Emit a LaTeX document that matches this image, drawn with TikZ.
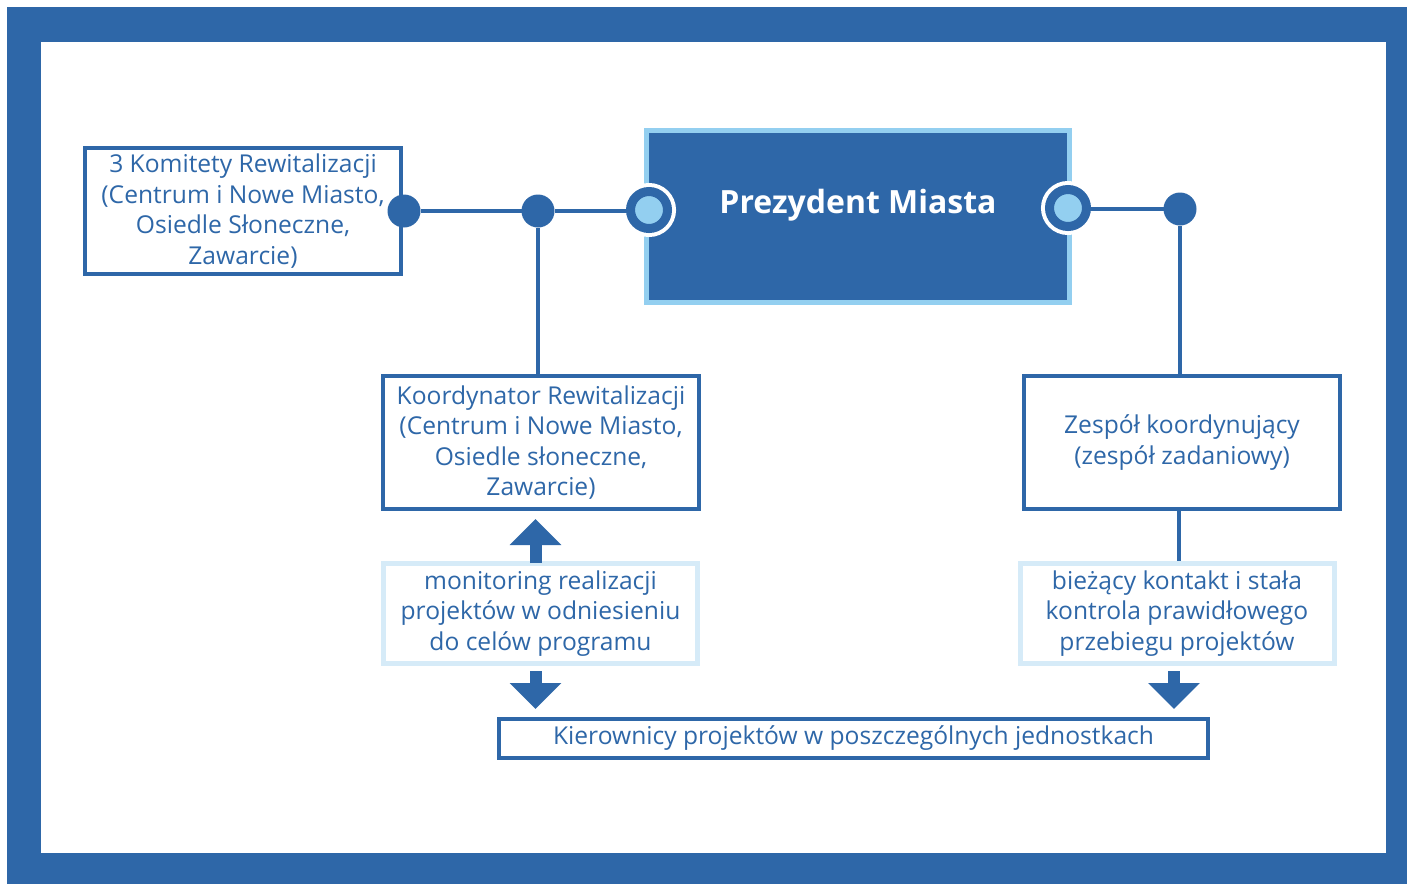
\documentclass[tikz,border=0pt]{standalone}
\usepackage{fontspec}
\setmainfont{Open Sans}
\definecolor{orgblue}{RGB}{46,103,168}
\definecolor{orglight}{RGB}{147,207,240}
\definecolor{orgpale}{RGB}{214,235,248}
\usetikzlibrary{arrows.meta,positioning,calc}

\begin{document}
\begin{tikzpicture}[x=0.5pt, y=-0.5pt,
  unitbox/.style={draw=orgblue, line width=2pt, fill=white, text=orgblue, align=center, inner sep=0pt, font=\fontsize{12.3}{15.2}\selectfont},
  notebox/.style={draw=orgpale, line width=2.5pt, fill=white, text=orgblue, align=center, inner sep=0pt, font=\fontsize{12.3}{15.2}\selectfont},
  dot/.style={circle, fill=orgblue, minimum size=16.5pt, inner sep=0pt, outer sep=0pt},
  ring/.style={circle, fill=orglight, draw=orgblue, line width=4.5pt, minimum size=18.5pt, inner sep=0pt, outer sep=0pt, preaction={draw=white, line width=8.5pt}},
  link/.style={orgblue, line width=2pt},
  blockarrow/.style={orgblue, line width=6pt, -{Triangle[length=13pt, width=25pt]}}]
  \useasboundingbox (0,0) rectangle (1407,884);
  % frame
  \fill[orgblue] (7,7) rectangle (1407,884);
  \fill[white] (41,42) rectangle (1386,853);

  % boxes
  \node[draw=orglight, fill=orgblue, line width=2.5pt, minimum width=211.5pt, minimum height=86pt, inner sep=0pt] (prez) at (858,216.5) {};
  \node[text=white, font=\fontsize{16}{18}\selectfont\bfseries] (prezlabel) at (858,205) {Prezydent Miasta};
  \node[unitbox, minimum width=158pt, minimum height=63pt] (kom) at (243,211) {3 Komitety Rewitalizacji\\(Centrum i Nowe Miasto,\\Osiedle Słoneczne,\\Zawarcie)};
  \node[unitbox, minimum width=158pt, minimum height=66.5pt] (koord) at (541,442.5) {Koordynator Rewitalizacji\\(Centrum i Nowe Miasto,\\Osiedle słoneczne,\\Zawarcie)};
  \node[unitbox, minimum width=158pt, minimum height=66.5pt] (zesp) at (1182,442.5) {Zespół koordynujący\\(zespół zadaniowy)};
  \node[notebox, minimum width=157pt, minimum height=50pt] (mon) at (540.5,613.5) {monitoring realizacji\\projektów w odniesieniu\\do celów programu};
  \node[notebox, minimum width=157pt, minimum height=50pt] (biez) at (1177,613.5) {bieżący kontakt i stała\\kontrola prawidłowego\\przebiegu projektów};
  \node[unitbox, minimum width=354.5pt, minimum height=19.5pt] (kier) at (853.5,738.5) {Kierownicy projektów w poszczególnych jednostkach};

  % joints
  \node[dot] (dotkom) at (404,211) {};
  \node[dot] (dotkoord) at (538,211) {};
  \node[dot] (dotzesp) at (1180,209) {};
  \node[ring] (ringl) at (649,210) {};
  \node[ring] (ringr) at (1068,208) {};

  % links
  \draw[link] (dotkom) -- (dotkoord);
  \draw[link] (dotkoord) -- (dotkoord -| ringl.west);
  \draw[link] (dotkoord) -- (dotkoord |- koord.north);
  \draw[link] (ringr.east |- dotzesp) -- (dotzesp);
  \draw[link] (dotzesp) -- (dotzesp |- zesp.north);
  \draw[link] ([xshift=-1.5pt]zesp.south) -- ([xshift=-1.5pt]zesp.south |- biez.north);

  % arrows
  \draw[blockarrow] ([xshift=-2.5pt, yshift=-1pt]mon.north) -- ([xshift=-2.5pt, yshift=-4pt]mon.north |- koord.south);
  \draw[blockarrow] ([xshift=-2.5pt, yshift=-2.5pt]mon.south) -- ([xshift=-2.5pt, yshift=4pt]mon.south |- kier.north);
  \draw[blockarrow] ([xshift=-1.5pt, yshift=-2.5pt]biez.south) -- ([xshift=-1.5pt, yshift=4pt]biez.south |- kier.north);
\end{tikzpicture}
\end{document}
